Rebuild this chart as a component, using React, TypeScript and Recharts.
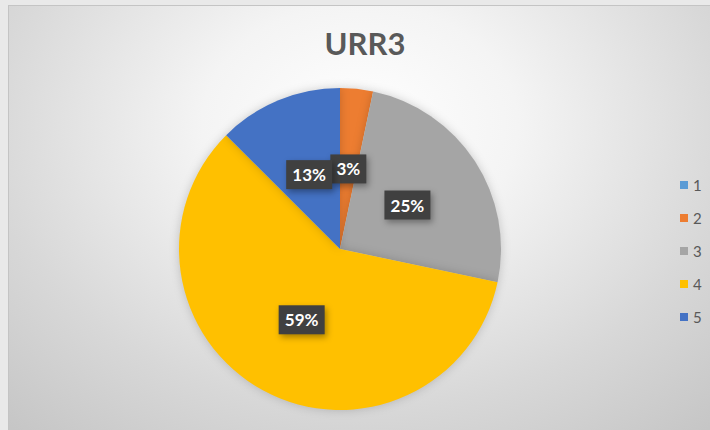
import { PieChart, Pie, Cell, Legend } from 'recharts';

const categories = ['1', '2', '3', '4', '5'];
const values = [0, 3.3, 25, 59.2, 12.5];
const colors = ['#5B9BD5', '#ED7D31', '#A5A5A5', '#FFC000', '#4472C4'];

const data = categories.map((name, i) => ({ name, value: values[i] }));

const RADIAN = Math.PI / 180;

const DataLabel = ({ cx, cy, midAngle, outerRadius, percent, value }: any) => {
  if (!value) return null;
  const r = outerRadius * 0.5;
  const x = cx + r * Math.cos(-midAngle * RADIAN);
  const y = cy + r * Math.sin(-midAngle * RADIAN);
  const text = `${Math.round(percent * 100)}%`;
  const w = text.length * 10 + 16;
  const h = 29;
  return (
    <g>
      <rect
        x={x - w / 2}
        y={y - h / 2}
        width={w}
        height={h}
        fill="#404040"
        style={{ filter: 'drop-shadow(2px 3px 3px rgba(0,0,0,0.35))' }}
      />
      <text
        x={x}
        y={y}
        fill="#FFFFFF"
        textAnchor="middle"
        dominantBaseline="central"
        fontFamily="Lato, sans-serif"
        fontWeight={700}
        fontSize={17}
      >
        {text}
      </text>
    </g>
  );
};

const LegendContent = ({ payload }: any) => (
  <div>
    {payload.map((entry: any) => (
      <div
        key={entry.value}
        style={{ display: 'flex', alignItems: 'center', height: 33, fontFamily: 'Lato, sans-serif', fontSize: 15, color: '#595959' }}
      >
        <span style={{ width: 8, height: 8, background: entry.color, marginRight: 5, display: 'inline-block' }} />
        {entry.value}
      </div>
    ))}
  </div>
);

export default function App() {
  return (
    <div style={{ position: 'absolute', left: 0, top: 0, width: 710, height: 430, background: '#e9e9e9', overflow: 'hidden' }}>
      <style>{`.recharts-pie-sector { filter: drop-shadow(0 0 5px rgba(0,0,0,0.18)); }`}</style>
      <div
        style={{
          position: 'absolute',
          left: 8,
          top: 5,
          width: 702,
          height: 425,
          borderLeft: '1px solid #c4c4c4',
          borderTop: '1px solid #c4c4c4',
          background:
            'radial-gradient(ellipse 75% 95% at 50% 28%, #ffffff 0%, #f4f4f4 30%, #d8d8d8 70%, #c6c6c6 100%)',
        }}
      />
      <div
        style={{
          position: 'absolute',
          left: 0,
          top: 24,
          width: 730,
          textAlign: 'center',
          fontFamily: 'Lato, sans-serif',
          fontWeight: 700,
          fontSize: 31,
          color: '#595959',
        }}
      >
        URR3
      </div>
      <div style={{ position: 'absolute', left: 0, top: 0 }}>
        <PieChart width={710} height={430} margin={{ top: 0, right: 0, bottom: 0, left: 0 }}>
          <Pie
            data={data}
            dataKey="value"
            nameKey="name"
            cx={340}
            cy={249}
            outerRadius={161}
            startAngle={90}
            endAngle={-270}
            stroke="none"
            labelLine={false}
            label={DataLabel}
            isAnimationActive={false}
          >
            {data.map((d, i) => (
              <Cell key={d.name} fill={colors[i]} />
            ))}
          </Pie>
          <Legend
            layout="vertical"
            align="right"
            verticalAlign="top"
            content={LegendContent}
            wrapperStyle={{ position: 'absolute', left: 680, top: 168, width: 30 }}
          />
        </PieChart>
      </div>
    </div>
  );
}
